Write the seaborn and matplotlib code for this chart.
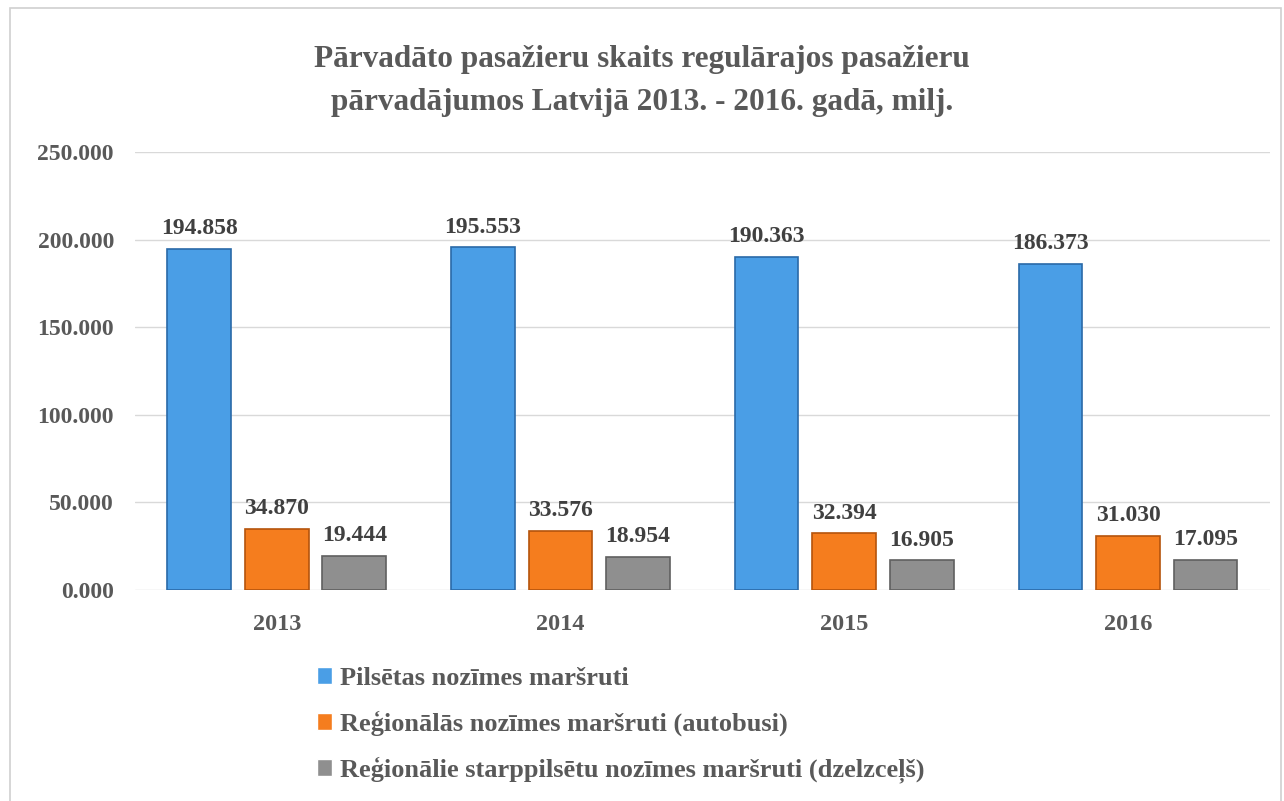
import matplotlib
matplotlib.use("Agg")
import matplotlib.pyplot as plt
import seaborn as sns
import pandas as pd
from matplotlib.patches import Rectangle
from matplotlib.ticker import FuncFormatter, MultipleLocator

years = ["2013", "2014", "2015", "2016"]
series = [
    "Pilsētas nozīmes maršruti",
    "Reģionālās nozīmes maršruti (autobusi)",
    "Reģionālie starppilsētu nozīmes maršruti (dzelzceļš)",
]
urban = [194.858, 195.553, 190.363, 186.373]
regional_bus = [34.870, 33.576, 32.394, 31.030]
regional_rail = [19.444, 18.954, 16.905, 17.095]
colors = ["#4a9ee6", "#f57d1e", "#8f8f8f"]
edges = ["#2a6aa8", "#b5540c", "#606060"]

rows = []
for s, vals in zip(series, [urban, regional_bus, regional_rail]):
    for y, v in zip(years, vals):
        rows.append({"year": y, "series": s, "value": v})
df = pd.DataFrame(rows)

sns.set_theme(style="white")
plt.rcParams["font.family"] = ["Liberation Serif", "DejaVu Serif"]
txt = "#595959"

fig = plt.figure(figsize=(12.84, 8.01), dpi=100)
ax = fig.add_axes([0.105, 0.2634, 0.884, 0.5468])

sns.barplot(data=df, x="year", y="value", hue="series", order=years,
            hue_order=series, palette=colors, width=0.82, gap=0.18,
            ax=ax, legend=True, saturation=1)

for cont, ec in zip(ax.containers, edges):
    for b in cont:
        b.set_edgecolor(ec)
        b.set_linewidth(1.2)
    ax.bar_label(cont, labels=[f"{v:.3f}" for v in cont.datavalues],
                 padding=7, fontsize=17, fontweight="bold", color="#404040")

ax.set_ylim(0, 250)
ax.set_xlim(-0.5, 3.5)
ax.yaxis.set_major_locator(MultipleLocator(50))
ax.yaxis.set_major_formatter(FuncFormatter(lambda v, p: f"{v:.3f}"))
ax.grid(axis="y", color="#d9d9d9", linewidth=1)
ax.set_axisbelow(True)
for sp in ax.spines.values():
    sp.set_visible(False)
ax.set_xlabel("")
ax.set_ylabel("")
ax.tick_params(axis="both", length=0, labelcolor=txt)
ax.tick_params(axis="y", pad=15, labelsize=17)
ax.tick_params(axis="x", pad=17, labelsize=17.5)
for lab in ax.get_xticklabels() + ax.get_yticklabels():
    lab.set_fontweight("bold")

handles, labels = ax.get_legend_handles_labels()
ax.get_legend().remove()
leg = fig.legend(handles, labels, loc="upper left", bbox_to_anchor=(0.228, 0.197),
                 frameon=False, ncol=1, handlelength=0.6, handleheight=0.6,
                 handletextpad=0.3, labelspacing=0.78,
                 prop={"family": "Liberation Serif", "weight": "bold", "size": 19})
for t in leg.get_texts():
    t.set_color(txt)

fig.text(0.5, 0.899, "Pārvadāto pasažieru skaits regulārajos pasažieru\npārvadājumos Latvijā 2013. - 2016. gadā, milj.",
         ha="center", va="center", fontsize=22.5, fontweight="bold", color=txt,
         linespacing=1.6)

fig.patches.append(Rectangle((0.008, -0.01), 0.99, 1.0, transform=fig.transFigure,
                             fill=False, edgecolor="#d0d0d0", linewidth=1.2))

fig.savefig("out.png", dpi=100)
